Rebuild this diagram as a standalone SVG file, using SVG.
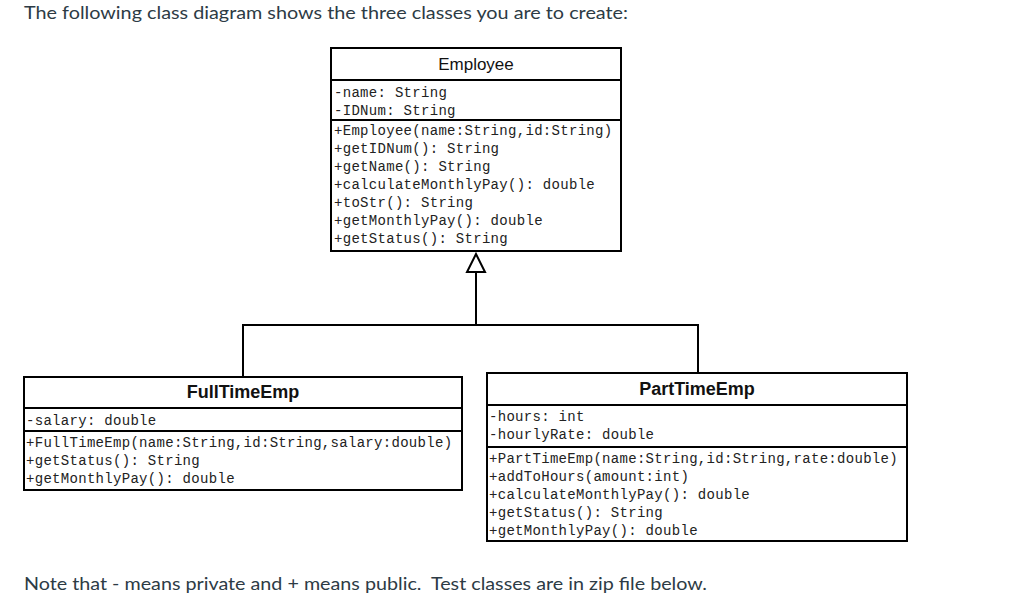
<svg xmlns="http://www.w3.org/2000/svg" width="1024" height="616" viewBox="0 0 1024 616">
<style>
.box{fill:#fff;stroke:#000;stroke-width:2}
.div{stroke:#000;stroke-width:2}
.m{font-family:"Liberation Mono","Courier New","Nimbus Mono PS","FreeMono",monospace;font-size:14px;letter-spacing:0.3px;fill:#222}
.t{font-family:"Liberation Sans",Arial,sans-serif;font-size:17px;fill:#111;text-anchor:middle}
.tb{font-family:"Liberation Sans",Arial,sans-serif;font-size:18px;font-weight:bold;fill:#111;text-anchor:middle}
.p{font-family:Lato,"Liberation Sans",sans-serif;font-size:17.5px;fill:#2d3b45}
.c{fill:none;stroke:#000;stroke-width:2}
</style>
<rect width="1024" height="616" fill="#fff"/>
<text class="p" x="24" y="19" textLength="604" lengthAdjust="spacingAndGlyphs">The following class diagram shows the three classes you are to create:</text>
<g id="Employee">
<rect class="box" x="331" y="48" width="290" height="203"/>
<line class="div" x1="331" y1="80" x2="621" y2="80"/>
<line class="div" x1="331" y1="120" x2="621" y2="120"/>
<text class="t" x="476" y="70">Employee</text>
<text class="m" x="334" y="97">-name: String</text>
<text class="m" x="334" y="115">-IDNum: String</text>
<text class="m" x="334" y="135">+Employee(name:String,id:String)</text>
<text class="m" x="334" y="153">+getIDNum(): String</text>
<text class="m" x="334" y="171">+getName(): String</text>
<text class="m" x="334" y="189">+calculateMonthlyPay(): double</text>
<text class="m" x="334" y="207">+toStr(): String</text>
<text class="m" x="334" y="225">+getMonthlyPay(): double</text>
<text class="m" x="334" y="243">+getStatus(): String</text>
</g>
<g id="FullTimeEmp">
<rect class="box" x="24" y="377" width="438" height="113"/>
<line class="div" x1="24" y1="408" x2="462" y2="408"/>
<line class="div" x1="24" y1="431" x2="462" y2="431"/>
<text class="tb" x="243" y="398">FullTimeEmp</text>
<text class="m" x="26" y="425">-salary: double</text>
<text class="m" x="26" y="447">+FullTimeEmp(name:String,id:String,salary:double)</text>
<text class="m" x="26" y="465">+getStatus(): String</text>
<text class="m" x="26" y="483">+getMonthlyPay(): double</text>
</g>
<g id="PartTimeEmp">
<rect class="box" x="487" y="373" width="420" height="168"/>
<line class="div" x1="487" y1="405" x2="907" y2="405"/>
<line class="div" x1="487" y1="447" x2="907" y2="447"/>
<text class="tb" x="697" y="395">PartTimeEmp</text>
<text class="m" x="489" y="421">-hours: int</text>
<text class="m" x="489" y="439">-hourlyRate: double</text>
<text class="m" x="489" y="463">+PartTimeEmp(name:String,id:String,rate:double)</text>
<text class="m" x="489" y="481">+addToHours(amount:int)</text>
<text class="m" x="489" y="499">+calculateMonthlyPay(): double</text>
<text class="m" x="489" y="517">+getStatus(): String</text>
<text class="m" x="489" y="535">+getMonthlyPay(): double</text>
</g>
<g id="connectors">
<polygon points="476,254 467,272 485,272" fill="#fff" stroke="#000" stroke-width="2"/>
<polyline class="c" points="476,272 476,325"/>
<polyline class="c" points="243,377 243,325 698,325 698,373"/>
</g>
<text class="p" x="24" y="590" xml:space="preserve" textLength="683" lengthAdjust="spacingAndGlyphs">Note that - means private and + means public.  Test classes are in zip file below.</text>
</svg>
